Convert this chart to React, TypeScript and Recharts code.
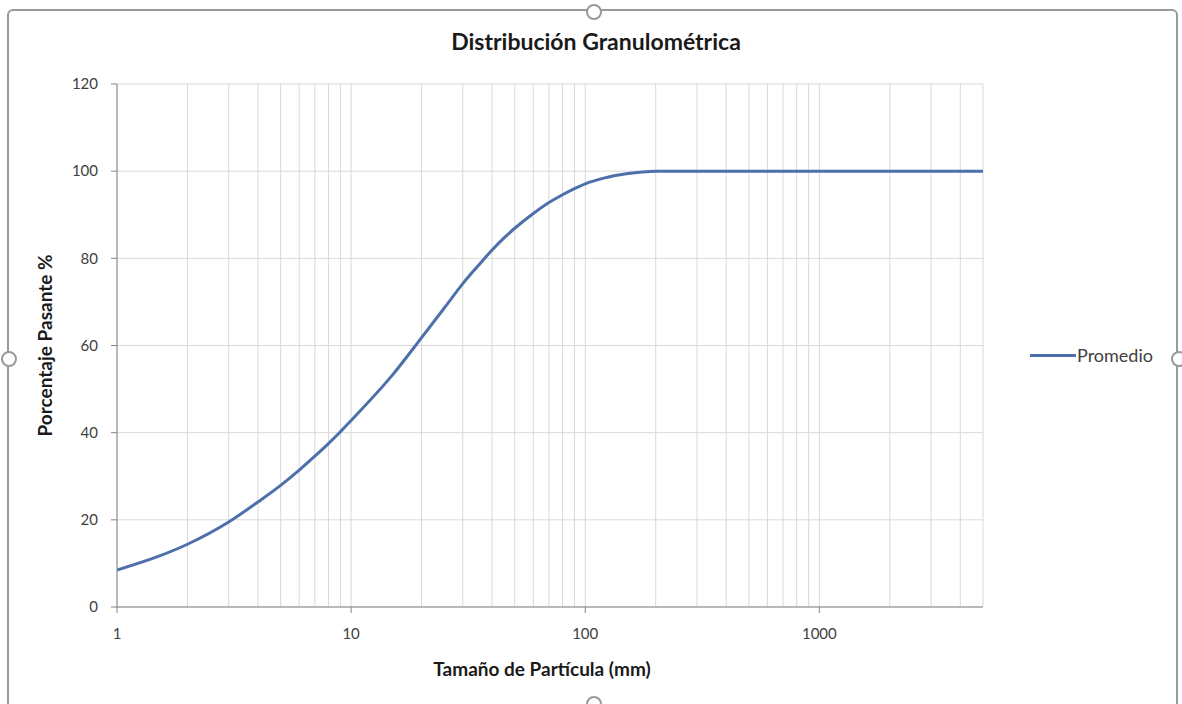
import React from "react";
import { LineChart, Line, XAxis, YAxis, CartesianGrid, Legend, Label } from "recharts";

const sizesMm = [1, 1.5, 2, 3, 4, 5, 6, 7, 8, 9, 10, 15, 20, 25, 30, 35, 40, 45, 50, 60, 70, 80, 90, 100, 120, 150, 200, 300, 500, 1000, 2000, 5000];
const passingPct = [8.5, 11.6, 14.4, 19.5, 24.1, 27.9, 31.4, 34.6, 37.5, 40.2, 42.8, 53.2, 61.8, 68.6, 74.2, 78.4, 81.9, 84.7, 86.9, 90.3, 92.8, 94.6, 96.0, 97.1, 98.4, 99.4, 100, 100, 100, 100, 100, 100];
const xTicks = [1, 2, 3, 4, 5, 6, 7, 8, 9, 10, 20, 30, 40, 50, 60, 70, 80, 90, 100, 200, 300, 400, 500, 600, 700, 800, 900, 1000, 2000, 3000, 4000, 5000];
const xLabelTicks = [1, 10, 100, 1000];
const yTicks = [0, 20, 40, 60, 80, 100, 120];

const title = "Distribución Granulométrica";
const xTitle = "Tamaño de Partícula (mm)";
const yTitle = "Porcentaje Pasante %";
const seriesName = "Promedio";

const data = sizesMm.map((s, i) => ({ size: s, pct: passingPct[i] }));

const FONT = "Lato, 'Open Sans', sans-serif";
const LINE_COLOR = "#4d70aa";

const XTick = (props: any) => {
  const { x, y, payload } = props;
  if (!xLabelTicks.includes(payload.value)) return <g />;
  return (
    <g>
      <line x1={x} x2={x} y1={y} y2={y + 6} stroke="#868686" strokeWidth={1} />
      <text x={x} y={y + 32} textAnchor="middle" fontFamily={FONT} fontSize={15} fill="#404040">
        {payload.value}
      </text>
    </g>
  );
};

const LegendContent = () => (
  <div style={{ display: "flex", alignItems: "center", fontFamily: FONT, fontSize: 18, color: "#404040", lineHeight: "20px" }}>
    <div style={{ width: 46, height: 3, background: LINE_COLOR, marginRight: 1 }} />
    <span>{seriesName}</span>
  </div>
);

const Handle = ({ left, top }: { left: number; top: number }) => (
  <div
    style={{
      position: "absolute",
      left: left - 7,
      top: top - 7,
      width: 12,
      height: 12,
      borderRadius: "50%",
      border: "2px solid #9a9a9a",
      background: "#fff",
    }}
  />
);

export default function App() {
  return (
    <div style={{ position: "absolute", left: 0, top: 0, width: 1182, height: 704, background: "#fff", overflow: "hidden" }}>
      <div
        style={{
          position: "absolute",
          left: 7,
          top: 9,
          width: 1171,
          height: 720,
          border: "2px solid #9a9a9a",
          borderRadius: 6,
          boxSizing: "border-box",
        }}
      />
      <div
        style={{
          position: "absolute",
          left: 0,
          top: 27,
          width: 1192,
          textAlign: "center",
          fontFamily: FONT,
          fontWeight: 700,
          fontSize: 23,
          color: "#1a1a1a",
        }}
      >
        {title}
      </div>
      <div style={{ position: "absolute", left: 0, top: 0 }}>
        <LineChart width={1182} height={704} data={data} margin={{ top: 84, right: 199, bottom: 17, left: 0 }}>
          <CartesianGrid stroke="#d9d9d9" strokeWidth={1} />
          <XAxis
            dataKey="size"
            type="number"
            scale="log"
            domain={[1, 5000]}
            allowDataOverflow
            ticks={xTicks}
            interval={0}
            tick={<XTick />}
            tickLine={false}
            tickSize={0}
            tickMargin={0}
            height={60}
            stroke="#868686"
          >
            <Label
              content={(p: any) => {
                const vb = p.viewBox;
                return (
                  <text
                    x={vb.x + vb.width / 2 - 8}
                    y={vb.y + 69}
                    textAnchor="middle"
                    fontFamily={FONT}
                    fontWeight={700}
                    fontSize={19}
                    fill="#1a1a1a"
                  >
                    {xTitle}
                  </text>
                );
              }}
            />
          </XAxis>
          <YAxis
            type="number"
            domain={[0, 120]}
            ticks={yTicks}
            interval={0}
            width={117}
            tickSize={6}
            tickMargin={13}
            stroke="#868686"
            tick={{ fontFamily: FONT, fontSize: 15, fill: "#404040" }}
          >
            <Label
              content={(p: any) => {
                const vb = p.viewBox;
                const cx = 52;
                const cy = vb.y + vb.height / 2;
                return (
                  <text
                    x={cx}
                    y={cy}
                    transform={`rotate(-90, ${cx}, ${cy})`}
                    textAnchor="middle"
                    fontFamily={FONT}
                    fontWeight={700}
                    fontSize={19}
                    fill="#1a1a1a"
                  >
                    {yTitle}
                  </text>
                );
              }}
            />
          </YAxis>
          <Legend
            content={<LegendContent />}
            wrapperStyle={{ position: "absolute", left: 1030, top: 345, width: 150, height: 20 }}
          />
          <Line
            type="monotone"
            dataKey="pct"
            name={seriesName}
            stroke={LINE_COLOR}
            strokeWidth={3}
            dot={false}
            activeDot={false}
            isAnimationActive={false}
          />
        </LineChart>
      </div>
      <Handle left={593} top={11} />
      <Handle left={8} top={358} />
      <Handle left={1178} top={358} />
      <Handle left={593} top={703} />
    </div>
  );
}
